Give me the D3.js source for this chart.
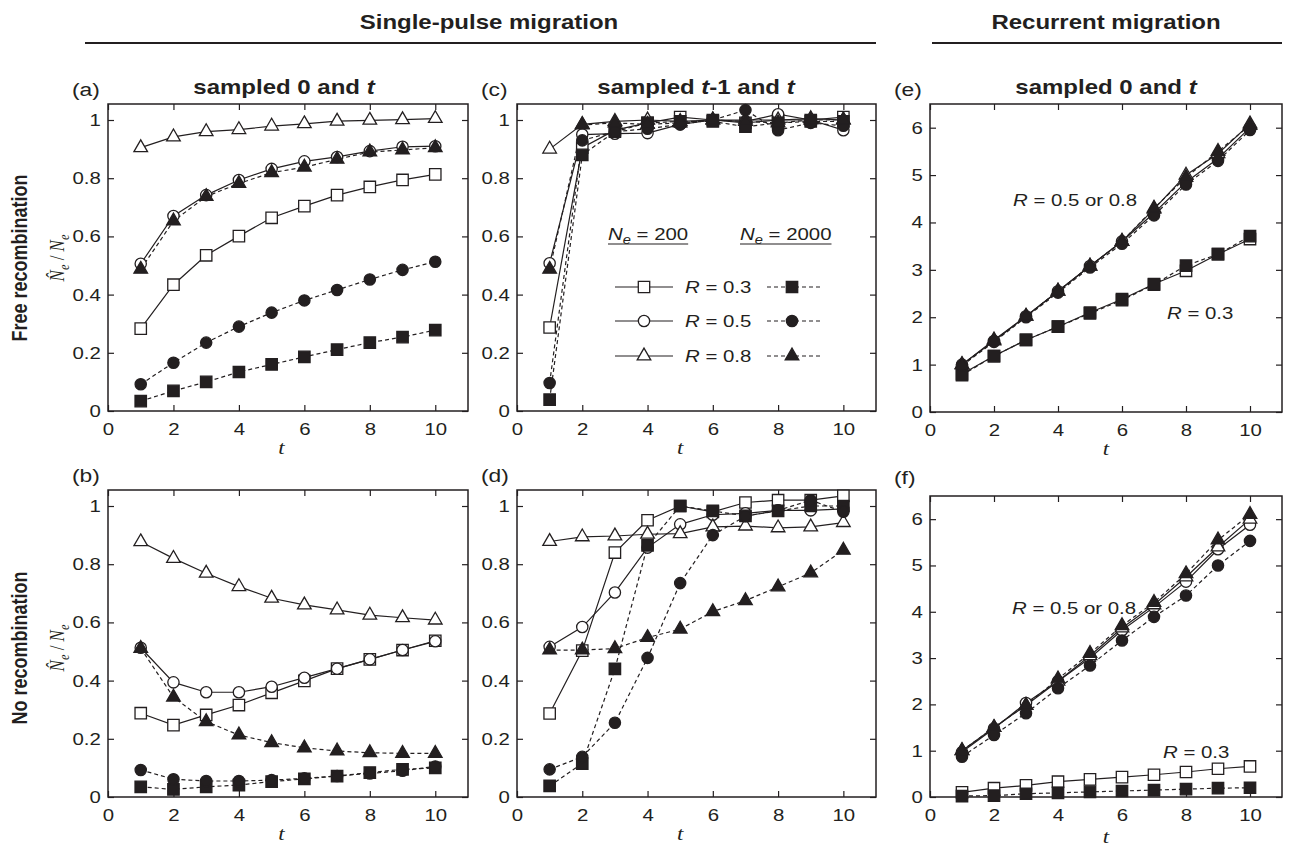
<!DOCTYPE html>
<html>
<head>
<meta charset="utf-8">
<style>
  body { margin: 0; background: #fff; }
</style>
<script src="https://cdn.jsdelivr.net/npm/d3@7"></script>
</head>
<body>
<script>
// ---- data ----
const tVals = [1, 2, 3, 4, 5, 6, 7, 8, 9, 10];
const xTicks = [0, 2, 4, 6, 8, 10];
const yTicksRatio = [0, 0.2, 0.4, 0.6, 0.8, 1];
const yTicksRec = [0, 1, 2, 3, 4, 5, 6];

// (a) single pulse, free recombination, sampled 0 and t
const aSq200 = [0.283, 0.434, 0.535, 0.601, 0.664, 0.704, 0.742, 0.770, 0.794, 0.813];
const aCi200 = [0.506, 0.670, 0.742, 0.794, 0.832, 0.858, 0.873, 0.893, 0.908, 0.910];
const aTr200 = [0.905, 0.942, 0.960, 0.967, 0.979, 0.987, 0.996, 0.999, 1.001, 1.005];
const aSq2000 = [0.034, 0.069, 0.100, 0.134, 0.160, 0.186, 0.211, 0.235, 0.254, 0.278];
const aCi2000 = [0.092, 0.166, 0.235, 0.290, 0.338, 0.380, 0.416, 0.452, 0.485, 0.513];
const aTr2000 = [0.487, 0.653, 0.737, 0.782, 0.819, 0.838, 0.865, 0.890, 0.897, 0.905];

// (b) single pulse, no recombination, sampled 0 and t
const bSq200 = [0.288, 0.247, 0.282, 0.316, 0.358, 0.399, 0.441, 0.473, 0.505, 0.537];
const bCi200 = [0.513, 0.394, 0.360, 0.360, 0.379, 0.410, 0.441, 0.473, 0.505, 0.535];
const bTr200 = [0.877, 0.820, 0.769, 0.723, 0.683, 0.660, 0.643, 0.625, 0.616, 0.608];
const bSq2000 = [0.035, 0.026, 0.035, 0.041, 0.053, 0.062, 0.072, 0.084, 0.095, 0.100];
const bCi2000 = [0.093, 0.061, 0.055, 0.055, 0.058, 0.064, 0.072, 0.081, 0.090, 0.105];
const bTr2000 = [0.511, 0.343, 0.259, 0.213, 0.187, 0.169, 0.158, 0.152, 0.150, 0.150];

// (c) single pulse, free recombination, sampled t-1 and t
const cSq200 = [0.287, 0.905, 0.965, 0.990, 1.010, 1.000, 0.990, 1.000, 1.000, 1.010];
const cCi200 = [0.508, 0.950, 0.953, 0.955, 0.985, 1.000, 0.995, 1.020, 1.000, 0.965];
const cTr200 = [0.900, 0.985, 0.995, 1.000, 0.995, 1.000, 1.000, 1.000, 1.005, 1.000];
const cSq2000 = [0.039, 0.880, 0.960, 0.990, 0.995, 0.995, 0.977, 0.990, 0.995, 0.995];
const cCi2000 = [0.096, 0.930, 0.960, 0.970, 0.985, 1.000, 1.034, 0.965, 0.990, 0.980];
const cTr2000 = [0.487, 0.983, 0.990, 0.985, 0.990, 1.000, 0.995, 0.990, 1.000, 1.000];

// (d) single pulse, no recombination, sampled t-1 and t
const dSq200 = [0.287, 0.503, 0.840, 0.951, 1.000, 0.980, 1.012, 1.020, 1.020, 1.035];
const dCi200 = [0.516, 0.584, 0.703, 0.857, 0.937, 0.970, 0.975, 0.985, 0.985, 0.990];
const dTr200 = [0.878, 0.894, 0.897, 0.903, 0.905, 0.928, 0.931, 0.925, 0.928, 0.943];
const dSq2000 = [0.038, 0.115, 0.440, 0.865, 1.000, 0.983, 0.966, 0.983, 1.000, 1.000];
const dCi2000 = [0.095, 0.138, 0.255, 0.478, 0.735, 0.900, 0.965, 0.985, 1.020, 0.980];
const dTr2000 = [0.505, 0.505, 0.510, 0.548, 0.577, 0.637, 0.675, 0.722, 0.770, 0.848];

// (e) recurrent migration, free recombination
const eSq200 = [0.80, 1.18, 1.52, 1.80, 2.10, 2.38, 2.70, 2.98, 3.33, 3.65];
const eCi200 = [1.00, 1.50, 2.02, 2.55, 3.08, 3.60, 4.20, 4.85, 5.35, 6.00];
const eTr200 = [1.00, 1.52, 2.02, 2.55, 3.08, 3.60, 4.28, 5.00, 5.45, 6.08];
const eSq2000 = [0.78, 1.18, 1.52, 1.80, 2.08, 2.36, 2.69, 3.09, 3.33, 3.71];
const eCi2000 = [0.98, 1.48, 2.00, 2.52, 3.05, 3.55, 4.15, 4.80, 5.30, 5.95];
const eTr2000 = [1.00, 1.50, 2.02, 2.55, 3.08, 3.60, 4.30, 4.95, 5.50, 6.05];

// (f) recurrent migration, no recombination
const fSq200 = [0.10, 0.19, 0.25, 0.33, 0.38, 0.43, 0.48, 0.54, 0.61, 0.66];
const fCi200 = [0.97, 1.48, 2.03, 2.50, 3.00, 3.60, 4.10, 4.65, 5.35, 5.88];
const fTr200 = [1.00, 1.50, 1.98, 2.50, 3.05, 3.65, 4.15, 4.75, 5.40, 6.00];
const fSq2000 = [0.02, 0.03, 0.07, 0.09, 0.11, 0.13, 0.15, 0.17, 0.19, 0.20];
const fCi2000 = [0.87, 1.34, 1.81, 2.35, 2.84, 3.38, 3.89, 4.35, 5.00, 5.53];
const fTr2000 = [1.00, 1.50, 1.98, 2.55, 3.10, 3.70, 4.20, 4.82, 5.55, 6.10];

// ---- drawing ----
const W = 1293, H = 851;
const INK = "#231f20";
const SANS = "'Liberation Sans', Arial, Helvetica, sans-serif";
const SERIF = "'Liberation Serif', 'Times New Roman', serif";
const SX = 1.2; // the figure is a bit wider than tall, text too

const svg = d3.select("body").append("svg")
  .attr("width", W).attr("height", H);

// style per series, same order as data arrays in each panel
const seriesStyle = [
  { sym: d3.symbolSquare, size: 130, filled: false, dashed: false },
  { sym: d3.symbolCircle, size: 100, filled: false, dashed: false },
  { sym: d3.symbolTriangle, size: 80, filled: false, dashed: false },
  { sym: d3.symbolSquare, size: 130, filled: true, dashed: true },
  { sym: d3.symbolCircle, size: 100, filled: true, dashed: true },
  { sym: d3.symbolTriangle, size: 80, filled: true, dashed: true }
];

function txt(parent, x, y, opt) {
  opt = opt || {};
  let tr = `translate(${x},${y}) scale(${SX},1)`;
  if (opt.rotate) tr += ` rotate(${opt.rotate})`;
  return parent.append("text")
    .attr("transform", tr)
    .attr("text-anchor", opt.anchor || "start")
    .attr("font-family", opt.family || SANS)
    .attr("font-size", opt.size || 17)
    .attr("font-weight", opt.weight || "normal")
    .attr("fill", INK);
}

function rich(t, parts) {
  parts.forEach(p => {
    const s = t.append("tspan").text(p.s);
    if (p.i) s.attr("font-style", "italic");
    if (p.serif) s.attr("font-family", SERIF);
    if (p.sub) s.attr("font-size", "0.72em").attr("dy", p.sub);
    if (p.dy) s.attr("dy", p.dy);
  });
  return t;
}

const panels = [
  { id: "(a)", left: 108, right: 468, top: 104, bottom: 411, yMax: 1.055, yTicks: yTicksRatio,
    data: [aSq200, aCi200, aTr200, aSq2000, aCi2000, aTr2000], tx: 5.3 },
  { id: "(b)", left: 108, right: 468, top: 490, bottom: 797, yMax: 1.055, yTicks: yTicksRatio,
    data: [bSq200, bCi200, bTr200, bSq2000, bCi2000, bTr2000], tx: 5.3 },
  { id: "(c)", left: 517, right: 876, top: 104, bottom: 411, yMax: 1.055, yTicks: yTicksRatio,
    data: [cSq200, cCi200, cTr200, cSq2000, cCi2000, cTr2000], tx: 5.0 },
  { id: "(d)", left: 517, right: 876, top: 490, bottom: 797, yMax: 1.055, yTicks: yTicksRatio,
    data: [dSq200, dCi200, dTr200, dSq2000, dCi2000, dTr2000], tx: 5.0 },
  { id: "(e)", left: 930, right: 1282, top: 104, bottom: 412, yMax: 6.5, yTicks: yTicksRec,
    data: [eSq200, eCi200, eTr200, eSq2000, eCi2000, eTr2000], tx: 5.5 },
  { id: "(f)", left: 930, right: 1282, top: 496, bottom: 797, yMax: 6.5, yTicks: yTicksRec,
    data: [fSq200, fCi200, fTr200, fSq2000, fCi2000, fTr2000], tx: 5.5 }
];

const scales = {};

panels.forEach(p => {
  const g = svg.append("g");
  const x = d3.scaleLinear().domain([0, 11]).range([p.left, p.right]);
  const y = d3.scaleLinear().domain([0, p.yMax]).range([p.bottom, p.top]);
  scales[p.id] = { x, y };

  const fmt = d3.format("~g");
  const styleAxis = sel => {
    sel.select(".domain").remove();
    sel.selectAll("line").attr("stroke", INK).attr("stroke-width", 1.2);
    sel.selectAll("text").attr("font-family", SANS).attr("font-size", 17)
      .attr("fill", INK).attr("transform", `scale(${SX},1)`);
  };

  g.append("g").attr("transform", `translate(0,${p.bottom})`)
    .call(d3.axisBottom(x).tickValues(xTicks).tickSizeInner(-6).tickSizeOuter(0)
      .tickPadding(12).tickFormat(fmt))
    .call(styleAxis);
  g.append("g").attr("transform", `translate(0,${p.top})`)
    .call(d3.axisTop(x).tickValues(xTicks).tickSizeInner(-6).tickSizeOuter(0).tickFormat(""))
    .call(styleAxis);
  g.append("g").attr("transform", `translate(${p.left},0)`)
    .call(d3.axisLeft(y).tickValues(p.yTicks).tickSizeInner(-6).tickSizeOuter(0)
      .tickPadding(6).tickFormat(fmt))
    .call(styleAxis);
  g.append("g").attr("transform", `translate(${p.right},0)`)
    .call(d3.axisRight(y).tickValues(p.yTicks).tickSizeInner(-6).tickSizeOuter(0).tickFormat(""))
    .call(styleAxis);

  g.append("rect")
    .attr("x", p.left).attr("y", p.top)
    .attr("width", p.right - p.left).attr("height", p.bottom - p.top)
    .attr("fill", "none").attr("stroke", INK).attr("stroke-width", 1.5);

  // x label
  rich(txt(g, x(p.tx), p.bottom + (p.id === "(f)" ? 46 : 43),
    { anchor: "middle", family: SERIF, size: 19 }), [{ s: "t", i: true }]);

  // panel letter
  txt(g, p.left - 36, p.top - (p.id === "(f)" ? 12 : 8), { size: 19 }).text(p.id);

  const line = d3.line().x((d, i) => x(tVals[i])).y(d => y(d));

  // lines first
  p.data.forEach((vals, k) => {
    const st = seriesStyle[k];
    g.append("path").datum(vals)
      .attr("d", line)
      .attr("fill", "none")
      .attr("stroke", INK)
      .attr("stroke-width", 1.2)
      .attr("stroke-dasharray", st.dashed ? "4,3" : null);
  });
  // open markers, then filled
  [false, true].forEach(fill => {
    p.data.forEach((vals, k) => {
      const st = seriesStyle[k];
      if (st.filled !== fill) return;
      g.append("g").selectAll("path").data(vals).join("path")
        .attr("transform", (d, i) => `translate(${x(tVals[i])},${y(d)})`)
        .attr("d", d3.symbol().type(st.sym).size(st.size))
        .attr("fill", st.filled ? INK : "#fff")
        .attr("stroke", INK)
        .attr("stroke-width", 1.3);
    });
  });
});

// ---- headers ----
rich(txt(svg, 489, 29, { anchor: "middle", weight: "bold", size: 20 }), [{ s: "Single-pulse migration" }]);
svg.append("line").attr("x1", 85).attr("x2", 876).attr("y1", 43).attr("y2", 43)
  .attr("stroke", INK).attr("stroke-width", 2);
rich(txt(svg, 1106, 29, { anchor: "middle", weight: "bold", size: 20 }), [{ s: "Recurrent migration" }]);
svg.append("line").attr("x1", 932).attr("x2", 1282).attr("y1", 43).attr("y2", 43)
  .attr("stroke", INK).attr("stroke-width", 2);

rich(txt(svg, 284, 94, { anchor: "middle", weight: "bold", size: 20 }),
  [{ s: "sampled 0 and " }, { s: "t", i: true }]);
rich(txt(svg, 696, 94, { anchor: "middle", weight: "bold", size: 20 }),
  [{ s: "sampled " }, { s: "t", i: true }, { s: "-1 and " }, { s: "t", i: true }]);
rich(txt(svg, 1106, 94, { anchor: "middle", weight: "bold", size: 20 }),
  [{ s: "sampled 0 and " }, { s: "t", i: true }]);

// row labels
[["Free recombination", 258], ["No recombination", 648]].forEach(([s, cy]) => {
  txt(svg, 19, cy, { anchor: "middle", weight: "bold", size: 18, rotate: -90 })
    .attr("dy", "0.35em").text(s);
  rich(txt(svg, 57, cy, { anchor: "middle", family: SERIF, size: 17, rotate: -90 }).attr("dy", "0.35em"),
    [{ s: "N\u0302", i: true }, { s: "e", i: true, sub: 4 }, { s: " / ", dy: -4 },
     { s: "N", i: true }, { s: "e", i: true, sub: 4 }]);
});

// ---- legend in (c) ----
const lg = svg.append("g");
[["200", 608], ["2000", 740]].forEach(([n, lx]) => {
  const t = rich(txt(lg, lx, 240, { size: 17 }),
    [{ s: "N", i: true }, { s: "e", i: true, sub: 4 }, { s: " = " + n, dy: -4 }]);
  const bb = t.node().getBBox();
  lg.append("line")
    .attr("x1", lx + bb.x * SX).attr("x2", lx + (bb.x + bb.width) * SX)
    .attr("y1", 244).attr("y2", 244)
    .attr("stroke", INK).attr("stroke-width", 1.2);
});
const legendR = ["0.3", "0.5", "0.8"];
const legendY = [287, 321, 356];
legendR.forEach((r, k) => {
  const ly = legendY[k];
  const open = seriesStyle[k], full = seriesStyle[k + 3];
  lg.append("line").attr("x1", 615).attr("x2", 673).attr("y1", ly).attr("y2", ly)
    .attr("stroke", INK).attr("stroke-width", 1.2);
  lg.append("path").attr("transform", `translate(644,${ly})`)
    .attr("d", d3.symbol().type(open.sym).size(open.size))
    .attr("fill", "#fff").attr("stroke", INK).attr("stroke-width", 1.3);
  lg.append("line").attr("x1", 767).attr("x2", 820).attr("y1", ly).attr("y2", ly)
    .attr("stroke", INK).attr("stroke-width", 1.2).attr("stroke-dasharray", "4,3");
  lg.append("path").attr("transform", `translate(792,${ly})`)
    .attr("d", d3.symbol().type(full.sym).size(full.size))
    .attr("fill", INK).attr("stroke", INK).attr("stroke-width", 1.3);
  rich(txt(lg, 685, ly + 6, { size: 17 }), [{ s: "R", i: true }, { s: " = " + r }]);
});

// ---- annotations in (e) and (f) ----
[[1013, 206, 1167, 319], [1012, 614, 1163, 758]].forEach(([x1, y1, x2, y2]) => {
  rich(txt(svg, x1, y1, { size: 17 }), [{ s: "R", i: true }, { s: " = 0.5 or 0.8" }]);
  rich(txt(svg, x2, y2, { size: 17 }), [{ s: "R", i: true }, { s: " = 0.3" }]);
});
</script>
</body>
</html>
